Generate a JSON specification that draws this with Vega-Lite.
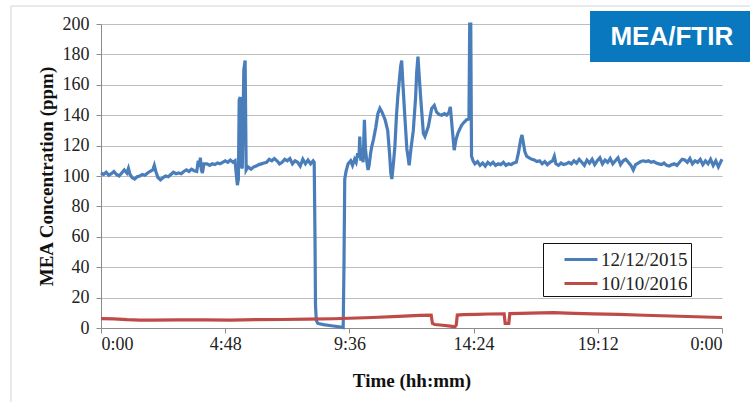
{
  "$schema": "https://vega.github.io/schema/vega-lite/v6.json",
  "width": 621,
  "height": 304,
  "autosize": "none",
  "padding": {"left": 101, "top": 24, "right": 28, "bottom": 74},
  "background": "white",
  "config": {
    "view": {"stroke": null},
    "font": "Liberation Serif",
    "axis": {
      "labelFont": "Liberation Serif", "labelFontSize": 18, "labelColor": "#222", "labelOverlap": false,
      "titleFont": "Liberation Serif", "titleFontSize": 19, "titleFontWeight": "bold", "titleColor": "#111",
      "domainColor": "#8c8c8c", "tickColor": "#8c8c8c", "tickSize": 5, "gridColor": "#bdbdbd", "gridWidth": 1
    },
    "axisX": {"grid": false, "labelPadding": 2, "titlePadding": 18},
    "axisY": {"grid": true, "labelPadding": 7, "titlePadding": 6},
    "legend": {"labelFont": "Liberation Serif", "labelFontSize": 19, "labelColor": "#222"}
  },
  "datasets": {
    "series": [
      {"s":"12/12/2015","t":0,"v":102},{"s":"12/12/2015","t":0.1,"v":101},{"s":"12/12/2015","t":0.2,"v":102.5},{"s":"12/12/2015","t":0.3,"v":100.5},{"s":"12/12/2015","t":0.4,"v":101.5},{"s":"12/12/2015","t":0.5,"v":103},{"s":"12/12/2015","t":0.6,"v":101},{"s":"12/12/2015","t":0.7,"v":100},{"s":"12/12/2015","t":0.8,"v":102},{"s":"12/12/2015","t":0.9,"v":104},{"s":"12/12/2015","t":1.0,"v":102},{"s":"12/12/2015","t":1.06,"v":105},{"s":"12/12/2015","t":1.12,"v":101},{"s":"12/12/2015","t":1.2,"v":99},{"s":"12/12/2015","t":1.3,"v":98},{"s":"12/12/2015","t":1.4,"v":99.5},{"s":"12/12/2015","t":1.5,"v":100},{"s":"12/12/2015","t":1.6,"v":101},{"s":"12/12/2015","t":1.7,"v":100.5},{"s":"12/12/2015","t":1.8,"v":102},{"s":"12/12/2015","t":1.9,"v":103},{"s":"12/12/2015","t":2.0,"v":104},{"s":"12/12/2015","t":2.06,"v":107},{"s":"12/12/2015","t":2.12,"v":103},{"s":"12/12/2015","t":2.2,"v":99},{"s":"12/12/2015","t":2.3,"v":97.5},{"s":"12/12/2015","t":2.4,"v":99},{"s":"12/12/2015","t":2.5,"v":100},{"s":"12/12/2015","t":2.6,"v":99.5},{"s":"12/12/2015","t":2.7,"v":101},{"s":"12/12/2015","t":2.8,"v":102.5},{"s":"12/12/2015","t":2.9,"v":101.5},{"s":"12/12/2015","t":3.0,"v":102},{"s":"12/12/2015","t":3.1,"v":101.5},{"s":"12/12/2015","t":3.2,"v":103},{"s":"12/12/2015","t":3.3,"v":104},{"s":"12/12/2015","t":3.4,"v":103},{"s":"12/12/2015","t":3.5,"v":104.5},{"s":"12/12/2015","t":3.6,"v":103.5},{"s":"12/12/2015","t":3.7,"v":103},{"s":"12/12/2015","t":3.76,"v":110},{"s":"12/12/2015","t":3.8,"v":106},{"s":"12/12/2015","t":3.84,"v":112},{"s":"12/12/2015","t":3.88,"v":104},{"s":"12/12/2015","t":3.92,"v":102},{"s":"12/12/2015","t":3.98,"v":108},{"s":"12/12/2015","t":4.1,"v":108},{"s":"12/12/2015","t":4.2,"v":107},{"s":"12/12/2015","t":4.3,"v":108},{"s":"12/12/2015","t":4.4,"v":107.5},{"s":"12/12/2015","t":4.5,"v":108.5},{"s":"12/12/2015","t":4.6,"v":108},{"s":"12/12/2015","t":4.7,"v":109},{"s":"12/12/2015","t":4.8,"v":110},{"s":"12/12/2015","t":4.9,"v":109},{"s":"12/12/2015","t":5.0,"v":110.5},{"s":"12/12/2015","t":5.1,"v":109},{"s":"12/12/2015","t":5.18,"v":110},
      {"s":"12/12/2015","t":5.23,"v":101},{"s":"12/12/2015","t":5.27,"v":94},{"s":"12/12/2015","t":5.31,"v":98},{"s":"12/12/2015","t":5.34,"v":150},{"s":"12/12/2015","t":5.38,"v":152},{"s":"12/12/2015","t":5.41,"v":107},{"s":"12/12/2015","t":5.46,"v":105},{"s":"12/12/2015","t":5.52,"v":170},{"s":"12/12/2015","t":5.57,"v":176},{"s":"12/12/2015","t":5.61,"v":104},{"s":"12/12/2015","t":5.68,"v":106},{"s":"12/12/2015","t":5.8,"v":104.5},{"s":"12/12/2015","t":5.9,"v":106},{"s":"12/12/2015","t":6.0,"v":106.5},{"s":"12/12/2015","t":6.1,"v":107.5},{"s":"12/12/2015","t":6.2,"v":108},{"s":"12/12/2015","t":6.3,"v":108.5},{"s":"12/12/2015","t":6.4,"v":109},{"s":"12/12/2015","t":6.5,"v":111},{"s":"12/12/2015","t":6.6,"v":110},{"s":"12/12/2015","t":6.7,"v":111.5},{"s":"12/12/2015","t":6.8,"v":110},{"s":"12/12/2015","t":6.9,"v":108},{"s":"12/12/2015","t":7.0,"v":109},{"s":"12/12/2015","t":7.1,"v":111},{"s":"12/12/2015","t":7.2,"v":110},{"s":"12/12/2015","t":7.3,"v":111.5},{"s":"12/12/2015","t":7.4,"v":108},{"s":"12/12/2015","t":7.5,"v":110},{"s":"12/12/2015","t":7.6,"v":109},{"s":"12/12/2015","t":7.7,"v":106.5},{"s":"12/12/2015","t":7.8,"v":111},{"s":"12/12/2015","t":7.9,"v":108},{"s":"12/12/2015","t":8.0,"v":110.5},{"s":"12/12/2015","t":8.1,"v":108},{"s":"12/12/2015","t":8.2,"v":110},{"s":"12/12/2015","t":8.24,"v":109},
      {"s":"12/12/2015","t":8.27,"v":60},{"s":"12/12/2015","t":8.29,"v":15},{"s":"12/12/2015","t":8.32,"v":5},{"s":"12/12/2015","t":8.38,"v":3},{"s":"12/12/2015","t":8.6,"v":2.2},{"s":"12/12/2015","t":8.9,"v":1.5},{"s":"12/12/2015","t":9.2,"v":0.8},{"s":"12/12/2015","t":9.36,"v":0.3},{"s":"12/12/2015","t":9.39,"v":40},{"s":"12/12/2015","t":9.42,"v":98},{"s":"12/12/2015","t":9.47,"v":103},{"s":"12/12/2015","t":9.55,"v":108},{"s":"12/12/2015","t":9.65,"v":110},{"s":"12/12/2015","t":9.72,"v":107},{"s":"12/12/2015","t":9.8,"v":111},{"s":"12/12/2015","t":9.86,"v":109},{"s":"12/12/2015","t":9.92,"v":115},{"s":"12/12/2015","t":9.97,"v":112},{"s":"12/12/2015","t":10.0,"v":126},{"s":"12/12/2015","t":10.04,"v":110},{"s":"12/12/2015","t":10.09,"v":118},{"s":"12/12/2015","t":10.13,"v":109},{"s":"12/12/2015","t":10.18,"v":137},{"s":"12/12/2015","t":10.22,"v":118},{"s":"12/12/2015","t":10.27,"v":110},{"s":"12/12/2015","t":10.32,"v":104},{"s":"12/12/2015","t":10.36,"v":107},{"s":"12/12/2015","t":10.42,"v":115},{"s":"12/12/2015","t":10.46,"v":119},{"s":"12/12/2015","t":10.53,"v":124},{"s":"12/12/2015","t":10.62,"v":132},{"s":"12/12/2015","t":10.7,"v":141},{"s":"12/12/2015","t":10.78,"v":144.5},{"s":"12/12/2015","t":10.86,"v":142},{"s":"12/12/2015","t":10.98,"v":137},{"s":"12/12/2015","t":11.08,"v":130},{"s":"12/12/2015","t":11.15,"v":115},{"s":"12/12/2015","t":11.2,"v":102},{"s":"12/12/2015","t":11.24,"v":98},{"s":"12/12/2015","t":11.3,"v":108},{"s":"12/12/2015","t":11.36,"v":120},{"s":"12/12/2015","t":11.42,"v":140},{"s":"12/12/2015","t":11.47,"v":152},{"s":"12/12/2015","t":11.53,"v":163},{"s":"12/12/2015","t":11.58,"v":172},{"s":"12/12/2015","t":11.62,"v":176},{"s":"12/12/2015","t":11.67,"v":160},{"s":"12/12/2015","t":11.75,"v":137},{"s":"12/12/2015","t":11.82,"v":118},{"s":"12/12/2015","t":11.91,"v":107},{"s":"12/12/2015","t":11.98,"v":118},{"s":"12/12/2015","t":12.07,"v":130},{"s":"12/12/2015","t":12.16,"v":152},{"s":"12/12/2015","t":12.2,"v":168},{"s":"12/12/2015","t":12.25,"v":178.5},{"s":"12/12/2015","t":12.3,"v":165},{"s":"12/12/2015","t":12.37,"v":148},{"s":"12/12/2015","t":12.46,"v":128},{"s":"12/12/2015","t":12.52,"v":126},{"s":"12/12/2015","t":12.65,"v":132.5},{"s":"12/12/2015","t":12.78,"v":144.5},{"s":"12/12/2015","t":12.88,"v":146.5},{"s":"12/12/2015","t":12.97,"v":142},{"s":"12/12/2015","t":13.07,"v":140.5},{"s":"12/12/2015","t":13.17,"v":140},{"s":"12/12/2015","t":13.27,"v":141},{"s":"12/12/2015","t":13.36,"v":140},{"s":"12/12/2015","t":13.45,"v":142},{"s":"12/12/2015","t":13.5,"v":145.5},{"s":"12/12/2015","t":13.54,"v":138},{"s":"12/12/2015","t":13.58,"v":130},{"s":"12/12/2015","t":13.65,"v":117},{"s":"12/12/2015","t":13.72,"v":124},{"s":"12/12/2015","t":13.79,"v":128},{"s":"12/12/2015","t":13.87,"v":131},{"s":"12/12/2015","t":13.94,"v":133.5},{"s":"12/12/2015","t":14.04,"v":135.5},{"s":"12/12/2015","t":14.13,"v":137},{"s":"12/12/2015","t":14.22,"v":137.5},{"s":"12/12/2015","t":14.25,"v":200},{"s":"12/12/2015","t":14.29,"v":200},{"s":"12/12/2015","t":14.32,"v":113},{"s":"12/12/2015","t":14.38,"v":110},{"s":"12/12/2015","t":14.45,"v":108},
      {"s":"12/12/2015","t":14.55,"v":109.5},{"s":"12/12/2015","t":14.65,"v":107},{"s":"12/12/2015","t":14.75,"v":108.5},{"s":"12/12/2015","t":14.85,"v":106.5},{"s":"12/12/2015","t":14.95,"v":109},{"s":"12/12/2015","t":15.05,"v":107.5},{"s":"12/12/2015","t":15.15,"v":109},{"s":"12/12/2015","t":15.25,"v":107},{"s":"12/12/2015","t":15.35,"v":108},{"s":"12/12/2015","t":15.45,"v":107.5},{"s":"12/12/2015","t":15.55,"v":109},{"s":"12/12/2015","t":15.65,"v":107},{"s":"12/12/2015","t":15.75,"v":108},{"s":"12/12/2015","t":15.85,"v":107.5},{"s":"12/12/2015","t":15.95,"v":108.5},{"s":"12/12/2015","t":16.05,"v":109},{"s":"12/12/2015","t":16.13,"v":115},{"s":"12/12/2015","t":16.22,"v":124},{"s":"12/12/2015","t":16.27,"v":127},{"s":"12/12/2015","t":16.32,"v":122},{"s":"12/12/2015","t":16.38,"v":116},{"s":"12/12/2015","t":16.45,"v":113},{"s":"12/12/2015","t":16.55,"v":112},{"s":"12/12/2015","t":16.65,"v":111},{"s":"12/12/2015","t":16.75,"v":110.5},{"s":"12/12/2015","t":16.85,"v":109.5},{"s":"12/12/2015","t":16.95,"v":110},{"s":"12/12/2015","t":17.05,"v":108},{"s":"12/12/2015","t":17.15,"v":109.5},{"s":"12/12/2015","t":17.25,"v":107.5},{"s":"12/12/2015","t":17.35,"v":109},{"s":"12/12/2015","t":17.45,"v":110},{"s":"12/12/2015","t":17.52,"v":113},{"s":"12/12/2015","t":17.58,"v":108},{"s":"12/12/2015","t":17.68,"v":107},{"s":"12/12/2015","t":17.78,"v":108.5},{"s":"12/12/2015","t":17.88,"v":107.5},{"s":"12/12/2015","t":17.98,"v":108},{"s":"12/12/2015","t":18.08,"v":109},{"s":"12/12/2015","t":18.18,"v":108},{"s":"12/12/2015","t":18.28,"v":110},{"s":"12/12/2015","t":18.38,"v":108.5},{"s":"12/12/2015","t":18.48,"v":111},{"s":"12/12/2015","t":18.58,"v":109},{"s":"12/12/2015","t":18.68,"v":107},{"s":"12/12/2015","t":18.78,"v":110.5},{"s":"12/12/2015","t":18.88,"v":108.5},{"s":"12/12/2015","t":18.98,"v":111},{"s":"12/12/2015","t":19.08,"v":107.5},{"s":"12/12/2015","t":19.18,"v":110},{"s":"12/12/2015","t":19.28,"v":112},{"s":"12/12/2015","t":19.38,"v":108},{"s":"12/12/2015","t":19.48,"v":110.5},{"s":"12/12/2015","t":19.58,"v":109},{"s":"12/12/2015","t":19.68,"v":111.5},{"s":"12/12/2015","t":19.78,"v":108},{"s":"12/12/2015","t":19.88,"v":110},{"s":"12/12/2015","t":19.98,"v":112},{"s":"12/12/2015","t":20.08,"v":107.5},{"s":"12/12/2015","t":20.18,"v":110},{"s":"12/12/2015","t":20.28,"v":111},{"s":"12/12/2015","t":20.38,"v":109},{"s":"12/12/2015","t":20.48,"v":107},{"s":"12/12/2015","t":20.57,"v":104},{"s":"12/12/2015","t":20.66,"v":107.5},{"s":"12/12/2015","t":20.76,"v":108.5},{"s":"12/12/2015","t":20.86,"v":109.5},{"s":"12/12/2015","t":20.96,"v":110},{"s":"12/12/2015","t":21.06,"v":109.5},{"s":"12/12/2015","t":21.16,"v":110},{"s":"12/12/2015","t":21.26,"v":109},{"s":"12/12/2015","t":21.36,"v":109.5},{"s":"12/12/2015","t":21.46,"v":108.5},{"s":"12/12/2015","t":21.56,"v":108},{"s":"12/12/2015","t":21.66,"v":107.5},{"s":"12/12/2015","t":21.76,"v":108.5},{"s":"12/12/2015","t":21.86,"v":107},{"s":"12/12/2015","t":21.96,"v":106.5},{"s":"12/12/2015","t":22.06,"v":107.5},{"s":"12/12/2015","t":22.16,"v":108},{"s":"12/12/2015","t":22.26,"v":107},{"s":"12/12/2015","t":22.36,"v":109},{"s":"12/12/2015","t":22.46,"v":111},{"s":"12/12/2015","t":22.56,"v":110.5},{"s":"12/12/2015","t":22.66,"v":109},{"s":"12/12/2015","t":22.76,"v":111.5},{"s":"12/12/2015","t":22.86,"v":108},{"s":"12/12/2015","t":22.96,"v":110},{"s":"12/12/2015","t":23.06,"v":109},{"s":"12/12/2015","t":23.16,"v":111},{"s":"12/12/2015","t":23.26,"v":107.5},{"s":"12/12/2015","t":23.36,"v":110},{"s":"12/12/2015","t":23.46,"v":108},{"s":"12/12/2015","t":23.56,"v":111},{"s":"12/12/2015","t":23.66,"v":107},{"s":"12/12/2015","t":23.76,"v":110},{"s":"12/12/2015","t":23.86,"v":106},{"s":"12/12/2015","t":23.94,"v":109},{"s":"12/12/2015","t":24.0,"v":111},
      {"s":"10/10/2016","t":0,"v":6.2},{"s":"10/10/2016","t":0.5,"v":6.0},{"s":"10/10/2016","t":1.0,"v":5.5},{"s":"10/10/2016","t":1.5,"v":5.2},{"s":"10/10/2016","t":2.0,"v":5.2},{"s":"10/10/2016","t":3.0,"v":5.4},{"s":"10/10/2016","t":4.0,"v":5.3},{"s":"10/10/2016","t":5.0,"v":5.2},{"s":"10/10/2016","t":6.0,"v":5.5},{"s":"10/10/2016","t":7.0,"v":5.6},{"s":"10/10/2016","t":8.0,"v":5.8},{"s":"10/10/2016","t":9.0,"v":6.1},{"s":"10/10/2016","t":9.6,"v":6.4},{"s":"10/10/2016","t":10.5,"v":6.9},{"s":"10/10/2016","t":11.5,"v":7.6},{"s":"10/10/2016","t":12.3,"v":8.3},{"s":"10/10/2016","t":12.76,"v":8.5},{"s":"10/10/2016","t":12.81,"v":3},{"s":"10/10/2016","t":12.9,"v":2.3},{"s":"10/10/2016","t":13.2,"v":1.8},{"s":"10/10/2016","t":13.5,"v":1.2},{"s":"10/10/2016","t":13.68,"v":0.8},{"s":"10/10/2016","t":13.73,"v":2},{"s":"10/10/2016","t":13.77,"v":8.5},{"s":"10/10/2016","t":14.0,"v":8.8},{"s":"10/10/2016","t":14.5,"v":9.0},{"s":"10/10/2016","t":15.0,"v":9.2},{"s":"10/10/2016","t":15.58,"v":9.3},{"s":"10/10/2016","t":15.62,"v":3},{"s":"10/10/2016","t":15.76,"v":3},{"s":"10/10/2016","t":15.8,"v":9.5},{"s":"10/10/2016","t":16.2,"v":9.6},{"s":"10/10/2016","t":17.0,"v":9.9},{"s":"10/10/2016","t":17.5,"v":10.1},{"s":"10/10/2016","t":18.0,"v":9.8},{"s":"10/10/2016","t":19.0,"v":9.3},{"s":"10/10/2016","t":20.0,"v":8.9},{"s":"10/10/2016","t":21.0,"v":8.4},{"s":"10/10/2016","t":22.0,"v":7.9},{"s":"10/10/2016","t":23.0,"v":7.4},{"s":"10/10/2016","t":24.0,"v":6.9}
    ],
    "frame": [{"t": -3.48, "t2": 26, "v": 211.8, "v2": -60}],
    "badge": [{"t": 18.9, "t2": 25.5, "v": 175, "v2": 208.6, "tc": 22.06, "vc": 191.3, "label": "MEA/FTIR"}]
  },
  "encoding": {
    "x": {"field": "t", "type": "quantitative", "scale": {"domain": [0, 24], "nice": false},
      "axis": {"values": [0, 4.8, 9.6, 14.4, 19.2, 24], "labelExpr": "(floor(datum.value) % 24) + ':' + (round(datum.value * 60) % 60 < 10 ? '0' : '') + (round(datum.value * 60) % 60)", "title": "Time (hh:mm)"}},
    "y": {"field": "v", "type": "quantitative", "scale": {"domain": [0, 200], "nice": false},
      "axis": {"values": [0, 20, 40, 60, 80, 100, 120, 140, 160, 180, 200], "title": "MEA Concentration (ppm)"}}
  },
  "layer": [
    {
      "data": {"name": "frame"},
      "mark": {"type": "rect", "fill": null, "stroke": "#d4d4d4", "strokeWidth": 1},
      "encoding": {"x2": {"field": "t2"}, "y2": {"field": "v2"}}
    },
    {
      "data": {"name": "series"},
      "transform": [{"filter": "datum.s == '12/12/2015'"}],
      "mark": {"type": "line", "strokeWidth": 3.2, "interpolate": "linear"},
      "encoding": {
        "color": {"field": "s", "type": "nominal", "scale": {"domain": ["12/12/2015", "10/10/2016"], "range": ["#4a7ebb", "#be4b48"]},
          "legend": {"title": null, "orient": "none", "legendX": 442, "legendY": 219, "direction": "vertical",
            "strokeColor": "#111", "fillColor": "white", "padding": 2.5, "symbolOffset": 21.5,
            "symbolType": "M-1.32,0H1.32", "symbolSize": 625, "symbolStrokeWidth": 3, "labelOffset": 6,
            "labelExpr": "datum.label + '\u00a0\u00a0\u00a0\u00a0'",
            "labelFont": "Liberation Serif", "labelFontSize": 19, "labelColor": "#222", "rowPadding": 0}}
      }
    },
    {
      "data": {"name": "series"},
      "transform": [{"filter": "datum.s == '10/10/2016'"}],
      "mark": {"type": "line", "strokeWidth": 3.2, "interpolate": "linear"},
      "encoding": {"color": {"field": "s", "type": "nominal"}}
    },
    {
      "data": {"name": "badge"},
      "mark": {"type": "rect", "fill": "#0a78be"},
      "encoding": {"x2": {"field": "t2"}, "y2": {"field": "v2"}}
    },
    {
      "data": {"name": "badge"},
      "mark": {"type": "text", "font": "Liberation Sans", "fontWeight": "bold", "fontSize": 26, "fill": "white", "align": "center", "baseline": "middle"},
      "encoding": {
        "x": {"field": "tc", "type": "quantitative"},
        "y": {"field": "vc", "type": "quantitative"},
        "text": {"field": "label"}
      }
    }
  ]
}
